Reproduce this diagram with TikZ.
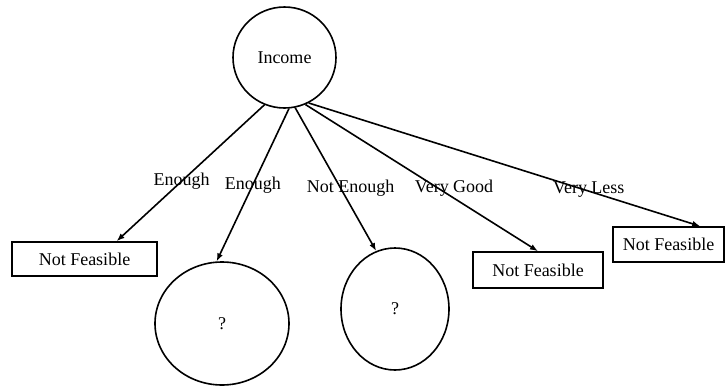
\documentclass[tikz,border=0pt]{standalone}
\usepackage{fontspec}
\setmainfont{Liberation Serif}
\usetikzlibrary{shapes.geometric,arrows.meta}
\begin{document}
\begin{tikzpicture}
        [x=0.5pt, y=-0.5pt, font=\fontsize{9}{11}\selectfont,
        attr/.style={ellipse, draw, thick, inner sep=0pt},
        leaf/.style={rectangle, draw, thick, inner sep=0pt},
        branch/.style={thick, -{Latex[length=4pt,width=3pt]}},
        choice/.style={inner sep=1pt}]

        \useasboundingbox (0,0) rectangle (725,387);

        % attribute and open nodes
        \node[attr, minimum width=51.5pt, minimum height=50.5pt] (income) at (284.5,57.5) {Income};
        \node[attr, minimum width=67pt, minimum height=61.5pt] (q1) at (222,323.5) {?};
        \node[attr, minimum width=54pt, minimum height=61pt] (q2) at (395,309) {?};

        % leaves
        \node[leaf, minimum width=72.5pt, minimum height=17pt] (nf1) at (84.5,259) {Not Feasible};
        \node[leaf, minimum width=65pt, minimum height=18pt] (nf2) at (538,270) {Not Feasible};
        \node[leaf, minimum width=55.5pt, minimum height=17.5pt] (nf3) at (668.5,244.5) {Not Feasible};

        % branches with their values
        \draw[branch] (income.247) -- (nf1.29) node[choice, pos=0.56] {Enough};
        \draw[branch] (income.275) -- (q1.95) node[choice, pos=0.5] {Enough};
        \draw[branch] (income.282) -- (q2.108.7) node[choice, pos=0.56, xshift=5pt] {Not Enough};
        \draw[branch] (income.294) -- (nf2.north) node[choice, pos=0.57, xshift=8pt] {Very Good};
        \draw[branch] (income.298) -- (nf3.30.7) node[choice, pos=0.7, xshift=3pt] {Very Less};

    \end{tikzpicture}
\end{document}
